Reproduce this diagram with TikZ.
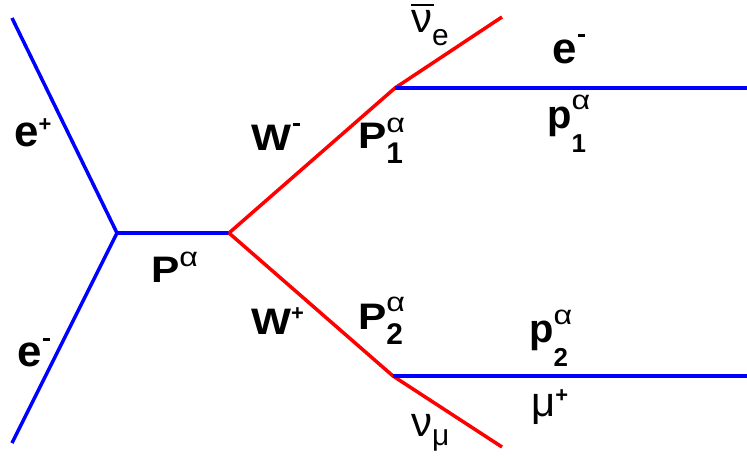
\documentclass[tikz,border=0pt]{standalone}
\usepackage{fontspec}
\setmainfont{Liberation Sans}
\newfontfamily\grk{Liberation Sans}
\tikzset{
  ferm/.style={blue, line width=3.5bp},
  boson/.style={red, line width=3.5bp},
  lab/.style={inner sep=0pt, anchor=base west, font=\bfseries\fontsize{37}{37}\selectfont},
  glab/.style={inner sep=0pt, anchor=base west, font=\grk\fontsize{42}{42}\selectfont},
}
\newcommand{\Wide}[1]{\scalebox{1.15}[1]{#1}}
\newcommand{\Up}[2]{\raisebox{#1}{\fontsize{22}{22}\selectfont #2}}
\newcommand{\Minus}[1]{\hspace{1.5bp}\raisebox{#1}{\rule{7bp}{2.5bp}}}
\newcommand{\SupSub}[4]{\rlap{\raisebox{#1}{\grk\mdseries\fontsize{27}{27}\selectfont\scalebox{1.2}[1]{α}}}\raisebox{-#2}{\fontsize{#3}{#3}\selectfont #4}}
\begin{document}
\begin{tikzpicture}[x=1bp,y=-1bp]
\useasboundingbox (0,0) rectangle (747,457);
% vertices
\coordinate (v1) at (117,233);
\coordinate (v2) at (229,233);
\coordinate (v3) at (395,88);
\coordinate (v4) at (393,376);
% free ends
\coordinate (a) at (12,18);
\coordinate (b) at (12,443);
\coordinate (c) at (502,17);
\coordinate (d) at (747,88);
\coordinate (f) at (502,447);
\coordinate (g) at (747,376);
% lines
\draw[ferm] (a) -- (v1) -- (b);
\draw[ferm] (v1) -- (v2);
\draw[boson] (v2) -- (v3) -- (c);
\draw[boson] (v2) -- (v4) -- (f);
\draw[ferm] (v3) -- (d);
\draw[ferm] (v4) -- (g);
% labels
\node[lab] (lep) at (14,147) {\fontsize{44}{44}\selectfont e\Up{15bp}{+}};
\node[lab] (lem) at (17,367) {\fontsize{44}{44}\selectfont e\Minus{26bp}};
\node[lab] (lP) at (151,283) {\Wide{P}\SupSub{16bp}{0bp}{27}{}};
\node[lab] (lWm) at (251,151) {\Wide{W}\Minus{25bp}};
\node[lab] (lWp) at (251,335) {\Wide{W}\Up{14bp}{+}};
\node[lab] (lP1) at (358,149) {\Wide{P}\SupSub{16bp}{15bp}{30}{1}};
\node[lab] (lP2) at (358,330) {\Wide{P}\SupSub{18bp}{15bp}{30}{2}};
\node[lab] (lem2) at (552,64) {\fontsize{44}{44}\selectfont e\Minus{27bp}};
\node[lab] (lp1) at (547,129) {\fontsize{40}{40}\selectfont p\SupSub{19bp}{24bp}{26}{1}};
\node[lab] (lp2) at (529,343) {\fontsize{40}{40}\selectfont p\SupSub{18bp}{24bp}{26}{2}};
\node[glab] (lnue) at (411,33) {\rlap{\raisebox{27bp}{\rule{23bp}{2bp}}}ν\raisebox{-13bp}{\fontsize{30}{30}\selectfont e}};
\node[glab] (lnum) at (411,436) {ν\raisebox{-9bp}{\fontsize{30}{30}\selectfont μ}};
\node[glab] (lmu) at (531,416) {μ\Up{14bp}{\bfseries +}};
\end{tikzpicture}
\end{document}
